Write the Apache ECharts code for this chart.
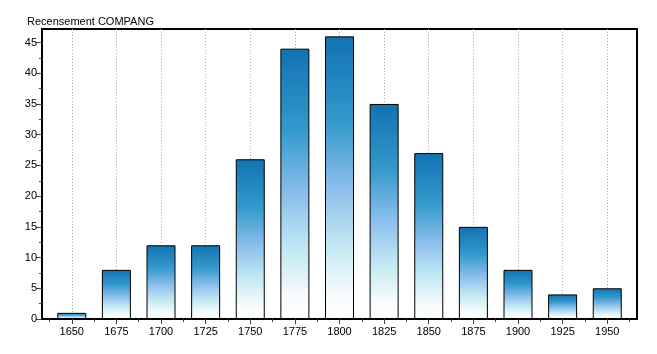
<!DOCTYPE html>
<html><head><meta charset="utf-8">
<script src="https://cdn.jsdelivr.net/npm/echarts@6/dist/echarts.min.js"></script>
<style>html,body{margin:0;padding:0;background:#fff}#c{width:657px;height:354px}</style>
</head><body><div id="c"></div>
<script>
const years = [1650,1675,1700,1725,1750,1775,1800,1825,1850,1875,1900,1925,1950];
const counts = [1,8,12,12,26,44,46,35,27,15,8,4,5];
const yTicks = [0,5,10,15,20,25,30,35,40,45];
const title = 'Recensement COMPANG';

const step = 25;
const xMin = years[0] - step*2/3;
const xMax = years[years.length-1] + step*2/3;
const mids = [];
for (let i = 0; i <= years.length; i++) mids.push(years[0] - step/2 + i*step);

const font = '"Liberation Sans", Arial, sans-serif';
const chart = echarts.init(document.getElementById('c'), null, {renderer:'canvas'});
chart.setOption({
  animation:false,
  backgroundColor:'#fff',
  title:{text:title,left:22,top:11,textStyle:{fontFamily:font,fontSize:11,fontWeight:'normal',color:'#000'}},
  grid:{left:42,right:20,top:29,bottom:35,show:true,borderColor:'#000',borderWidth:2,backgroundColor:'#fff'},
  xAxis:[{
    type:'value',min:xMin,max:xMax,
    axisLine:{show:true,onZero:false,lineStyle:{color:'#000',width:2}},
    axisTick:{show:true,customValues:years,length:5,lineStyle:{color:'#444'}},
    axisLabel:{customValues:years,formatter:v=>String(Math.round(v)),fontFamily:font,fontSize:11,color:'#000',margin:7},
    splitLine:{show:true,lineStyle:{type:[1,2],color:'#aaa',width:1}}
  },{
    type:'value',min:xMin,max:xMax,position:'bottom',
    axisLine:{show:false},
    axisTick:{show:true,customValues:mids,length:3,lineStyle:{color:'#444'}},
    axisLabel:{show:false},splitLine:{show:false}
  }],
  yAxis:{
    type:'value',min:0,max:47.2,
    axisLine:{show:true,lineStyle:{color:'#000',width:2}},
    axisTick:{show:true,inside:false,customValues:yTicks,length:6,lineStyle:{color:'#444'}},
    minorTick:{show:true,splitNumber:4,length:3,lineStyle:{color:'#444'}},
    axisLabel:{customValues:yTicks,formatter:v=>String(v),fontFamily:font,fontSize:11,color:'#000',margin:5},
    splitLine:{show:false}
  },
  series:[{
    type:'bar',xAxisIndex:0,barWidth:29,
    data:years.map((y,i)=>[y,counts[i]]),
    itemStyle:{
      borderColor:'#000',borderWidth:1,
      color:new echarts.graphic.LinearGradient(0,0,0,1,[
        {offset:0,color:'#1272b2'},
        {offset:0.3,color:'#3399cc'},
        {offset:0.55,color:'#8fc0ec'},
        {offset:0.75,color:'#c4eaf2'},
        {offset:0.92,color:'#f8fcfd'},
        {offset:1,color:'#ffffff'}
      ])
    }
  }]
});
</script></body></html>
